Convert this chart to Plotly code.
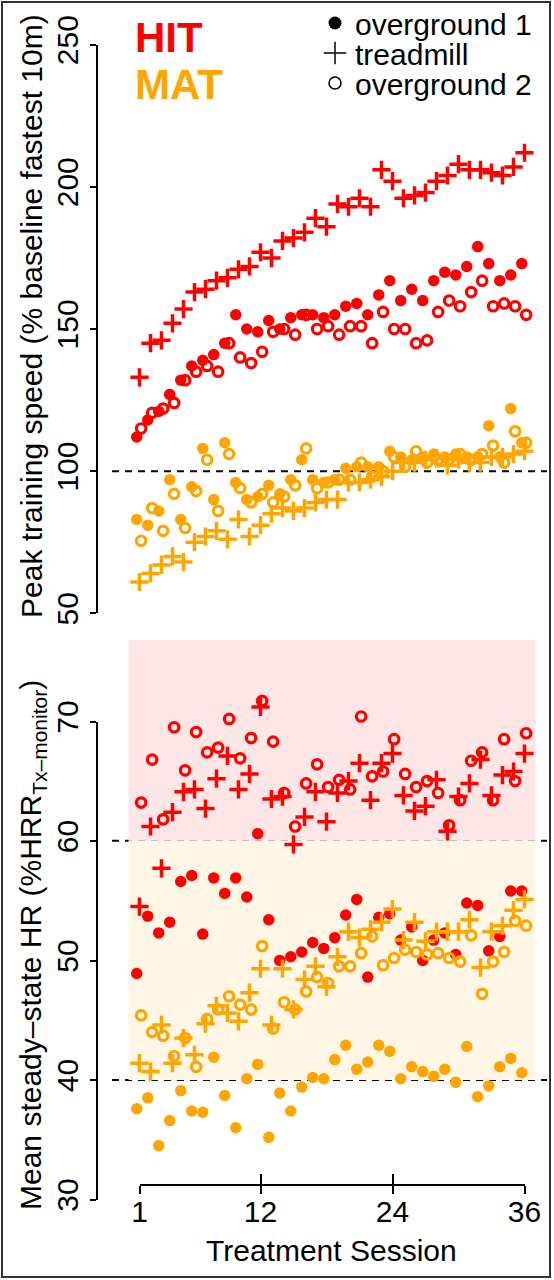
import plotly.graph_objects as go

# ---------------- data ----------------
sessions = list(range(1, 37))
session_ticks = [1, 12, 24, 36]
speed_ticks = [50, 100, 150, 200, 250]
hr_ticks = [30, 40, 50, 60, 70]

# Peak training speed (% baseline fastest 10m)
hit_og1_speed = [112, 118, 121, 127, 132, 137, 139, 141, 145, 155, 150, 149, 153, 150, 154, 155, 155, 154,
                 155, 158, 159, 155, 162, 167, 160, 164, 160, 167, 170, 169, 172, 179, 173, 167, 169, 173]
hit_tm_speed = [133, 145, 146, 152, 157, 163, 164, 167, 168, 171, 172, 177, 175, 181, 182, 184, 189, 186,
                194, 193, 196, 193, 206, 202, 196, 197, 198, 202, 204, 208, 206, 206, 205, 204, 207, 212]
hit_og2_speed = [115, 120.5, 122, 124, 132, 135, 137, 135, 145, 140, 138, 142, 149, 150, 148, 155, 150, 151,
                 148, 151, 151, 145, 156, 150, 150, 145, 146, 156, 160, 158, 163, 167, 158, 159, 158, 155]
mat_og1_speed = [83, 81, 86, 97, 83, 94.5, 108, 90, 110, 96, 90, 91, 95, 92, 97, 104, 97, 96,
                 97, 101, 101.5, 101.5, 101.5, 107, 105, 104, 105, 106, 105, 106, 105, 105, 116, 105, 122, 110]
mat_tm_speed = [61, 64, 67, 70, 68, 75, 77, 79, 76, 83, 77, 81, 85, 87, 86, 87, 89, 90,
                90, 96, 96, 97, 98, 100, 103, 103, 104, 104.5, 102, 104, 103, 103, 105, 105, 106, 107]
mat_og2_speed = [75.5, 87, 79, 92, 80, 93, 104, 86, 106, 94, 89, 92, 89, 91, 95, 108, 94, 96,
                 97, 97, 103, 98, 100, 105, 101.5, 107, 103, 104, 104, 106, 104, 106, 109, 103, 114, 110]

# Mean steady-state HR (%HRR Tx-monitor)
hit_og1_hr = [48.9, 53.7, 52.3, 53.2, 56.6, 57.1, 52.2, 56.9, 55.6, 56.9, 55.3, 60.6, 53.4, 50.0, 50.3, 50.7,
              51.5, 51.0, 51.9, 53.8, 55.1, 48.6, 53.6, 53.9, 51.7, 52.8, 50.0, 51.7, 52.3, 50.5, 54.8, 54.6,
              50.8, 52.0, 55.8, 55.8]
hit_tm_hr = [54.5, 61.2, 57.7, 62.4, 64.1, 64.3, 62.7, 65.2, 67.1, 64.3, 65.6, 71.2, 63.5, 63.7, 59.7, 62.0,
             64.1, 61.6, 64.0, 65.0, 66.5, 63.4, 66.5, 67.3, 63.8, 62.5, 62.9, 65.1, 60.8, 63.7, 64.8, 66.8,
             63.8, 65.5, 65.8, 67.3]
hit_og2_hr = [63.2, 66.8, 61.8, 69.5, 65.9, 69.1, 67.4, 67.8, 70.2, 66.9, 68.6, 71.7, 68.3, 64.0, 61.2, 64.8,
              66.4, 64.5, 65.1, 64.3, 70.4, 65.4, 65.8, 68.5, 65.6, 64.5, 65.0, 64.0, 61.3, 63.4, 66.7, 67.4,
              63.4, 68.5, 65.0, 69.0]
mat_og1_hr = [37.6, 38.5, 34.5, 36.6, 39.1, 37.4, 37.3, 41.9, 38.7, 36.0, 40.1, 41.3, 35.2, 38.9, 37.4, 39.4,
              40.2, 40.1, 41.7, 42.9, 40.9, 41.5, 42.9, 42.4, 40.1, 41.1, 40.7, 40.3, 40.9, 39.8, 42.8, 38.6,
              39.5, 41.1, 41.8, 40.6]
mat_tm_hr = [41.4, 40.7, 44.6, 41.4, 43.5, 42.1, 44.7, 46.2, 45.6, 44.9, 47.3, 49.3, 44.6, 49.3, 45.9, 48.4,
             49.5, 47.8, 50.3, 52.4, 51.9, 52.6, 53.2, 54.3, 51.7, 53.2, 51.6, 52.4, 52.4, 52.4, 53.4, 49.4,
             52.4, 52.9, 54.2, 55.1]
mat_og2_hr = [45.4, 44.0, 43.7, 42.0, 43.5, 41.1, 45.1, 45.9, 47.0, 46.3, 45.9, 51.2, 44.3, 46.5, 45.9, 47.4,
              48.6, 48.1, 49.5, 49.5, 50.6, 52.0, 49.6, 50.2, 50.9, 50.7, 50.5, 50.6, 50.2, 49.9, 52.1, 47.2,
              49.9, 50.7, 53.3, 52.9]

# reference levels / bands
speed_ref = 100
hr_band_low, hr_band_high = 40, 60

# ---------------- styling ----------------
W, H = 554, 1280
RED = "#FF0000"
ORANGE = "#FFA500"
FONT = "Liberation Sans, Arial, Helvetica, sans-serif"
FS = 30


def px(x):
    return x / W


def py(y):
    return 1 - y / H


modes = {
    "og1": dict(offset=-0.25, marker=lambda c: dict(symbol="circle", size=11.5, color=c, line=dict(width=0))),
    "tm": dict(offset=0.0, marker=lambda c: dict(symbol="cross-thin-open", size=13, color=c,
                                                   line=dict(width=3.5, color=c))),
    "og2": dict(offset=0.15, marker=lambda c: dict(symbol="circle-open", size=9.5, color=c,
                                                    line=dict(width=3.2, color=c))),
}

fig = go.Figure()

series = [
    (RED, "og1", hit_og1_speed, hit_og1_hr),
    (RED, "tm", hit_tm_speed, hit_tm_hr),
    (RED, "og2", hit_og2_speed, hit_og2_hr),
    (ORANGE, "og1", mat_og1_speed, mat_og1_hr),
    (ORANGE, "tm", mat_tm_speed, mat_tm_hr),
    (ORANGE, "og2", mat_og2_speed, mat_og2_hr),
]
for color, mode, spd, hr in series:
    m = modes[mode]
    xs = [s + m["offset"] for s in sessions]
    fig.add_trace(go.Scatter(x=xs, y=spd, mode="markers", marker=m["marker"](color),
                             xaxis="x", yaxis="y", showlegend=False, hoverinfo="skip", cliponaxis=False))
    fig.add_trace(go.Scatter(x=xs, y=hr, mode="markers", marker=m["marker"](color),
                             xaxis="x2", yaxis="y2", showlegend=False, hoverinfo="skip", cliponaxis=False))

# axis carriers (empty traces so the decorative axes render)
fig.add_trace(go.Scatter(x=[None], y=[None], xaxis="x3", yaxis="y3", showlegend=False, hoverinfo="skip"))
fig.add_trace(go.Scatter(x=[None], y=[None], xaxis="x3", yaxis="y4", showlegend=False, hoverinfo="skip"))
fig.add_trace(go.Scatter(x=[None], y=[None], xaxis="x4", yaxis="y3", showlegend=False, hoverinfo="skip"))

# legend entries (one legend per row for tight spacing)
legend_items = [
    ("overground 1", dict(symbol="circle", size=13, color="black"), "legend"),
    ("treadmill", dict(symbol="cross-thin-open", size=16, color="black", line=dict(width=1.5, color="black")), "legend2"),
    ("overground 2", dict(symbol="circle-open", size=12, color="black", line=dict(width=1.5, color="black")), "legend3"),
]
for name, mk, lg in legend_items:
    fig.add_trace(go.Scatter(x=[None], y=[None], mode="markers", marker=mk, name=name,
                             legend=lg, xaxis="x", yaxis="y"))

# plot-region geometry (pixels)
x_left, x_right = 112, 547
px_per_session = 11.0
x_first_px = 139.5
x0 = 1 - (x_first_px - x_left) / px_per_session
x1 = x0 + (x_right - x_left) / px_per_session
sess_domain = [px(x_first_px), px(x_first_px + 35 * px_per_session)]

data_x = dict(domain=[px(x_left), px(x_right)], range=[x0, x1], visible=False)
fig.update_layout(
    width=W, height=H,
    margin=dict(l=0, r=0, t=0, b=0, pad=0, autoexpand=False),
    paper_bgcolor="white", plot_bgcolor="rgba(0,0,0,0)",
    font=dict(family=FONT, size=FS, color="black"),
    xaxis=dict(**data_x, anchor="y"),
    xaxis2=dict(**data_x, anchor="y2"),
    yaxis=dict(domain=[py(636), py(22)], range=[42, 258], visible=False, anchor="x"),
    yaxis2=dict(domain=[py(1221), py(640)], range=[28.2, 76.8], visible=False, anchor="x2"),
    # labelled session axis: ticks pointing up from the line
    xaxis3=dict(domain=sess_domain, range=[1, 36], anchor="free", position=py(1185),
                showline=True, linecolor="black", linewidth=1.5,
                ticks="inside", ticklen=10, tickwidth=1.5, tickcolor="black", tickvals=session_ticks,
                tickfont=dict(size=FS, color="black"), showgrid=False, zeroline=False),
    # companion axis adding the downward half of the ticks
    xaxis4=dict(overlaying="x3", domain=sess_domain, range=[1, 36], anchor="free", position=py(1185),
                showline=False, ticks="outside", ticklen=8, tickwidth=1.5, tickcolor="black",
                tickvals=session_ticks, showticklabels=False, showgrid=False, zeroline=False),
    yaxis3=dict(domain=[py(613.2), py(44.6)], range=[50, 250], anchor="free", position=px(97),
                showline=True, linecolor="black", linewidth=1.5, ticks="outside", ticklen=6, tickwidth=1.5,
                tickcolor="black", tickvals=speed_ticks, tickangle=-90,
                tickfont=dict(size=FS, color="black"), showgrid=False, zeroline=False),
    yaxis4=dict(domain=[py(1199.5), py(721.5)], range=[30, 70], anchor="free", position=px(97),
                showline=True, linecolor="black", linewidth=1.5, ticks="outside", ticklen=6, tickwidth=1.5,
                tickcolor="black", tickvals=hr_ticks, tickangle=-90,
                tickfont=dict(size=FS, color="black"), showgrid=False, zeroline=False),
)

leg_common = dict(xanchor="left", yanchor="middle", bgcolor="rgba(0,0,0,0)", borderwidth=0,
                  font=dict(size=FS, color="black", family=FONT), itemwidth=30, tracegroupgap=0)
fig.update_layout(
    legend=dict(x=px(315), y=py(23), **leg_common),
    legend2=dict(x=px(315), y=py(53), **leg_common),
    legend3=dict(x=px(315), y=py(83), **leg_common),
)

# background bands and reference lines
fig.add_shape(type="rect", xref="x2", yref="y2", x0=0, x1=37, y0=hr_band_high, y1=76.8,
              fillcolor="rgb(255,230,230)", line=dict(width=0), layer="below")
fig.add_shape(type="rect", xref="x2", yref="y2", x0=0, x1=37, y0=hr_band_low, y1=hr_band_high,
              fillcolor="rgb(255,246,230)", line=dict(width=0), layer="below")
dash = dict(color="black", width=2, dash="7px,6px")
fig.add_shape(type="line", xref="paper", yref="y", x0=px(x_left), x1=px(x_right), y0=speed_ref, y1=speed_ref,
              line=dash, layer="below")
for lvl in (hr_band_high, hr_band_low):
    fig.add_shape(type="line", xref="paper", yref="y2", x0=px(x_left), x1=px(x_right), y0=lvl, y1=lvl,
                  line=dash, layer="below")
# outer frame
fig.add_shape(type="rect", xref="paper", yref="paper", x0=px(2), x1=px(550), y0=py(1277), y1=py(2),
              line=dict(color="#333333", width=2), fillcolor="rgba(0,0,0,0)")

# titles and group labels
ann = dict(showarrow=False, xref="paper", yref="paper")
fig.add_annotation(text="Peak training speed (% baseline fastest 10m)", x=px(32), y=py(316), textangle=-90,
                   xanchor="center", yanchor="middle", font=dict(size=FS), **ann)
fig.add_annotation(text="Mean steady\u2013state HR (%HRR<sub>Tx\u2013monitor</sub>)",
                   x=px(32), y=py(945), textangle=-90, xanchor="center", yanchor="middle",
                   font=dict(size=FS), **ann)
fig.add_annotation(text="Treatment Session", x=px(331), y=py(1250), xanchor="center", yanchor="middle",
                   font=dict(size=FS), **ann)
fig.add_annotation(text="<b>HIT</b>", x=px(133), y=py(38), xanchor="left", yanchor="middle",
                   font=dict(size=42, color=RED), **ann)
fig.add_annotation(text="<b>MAT</b>", x=px(133), y=py(84), xanchor="left", yanchor="middle",
                   font=dict(size=42, color=ORANGE), **ann)

fig.write_html("out.html", config={"displayModeBar": False},
               post_script="document.body.style.margin='0';")
